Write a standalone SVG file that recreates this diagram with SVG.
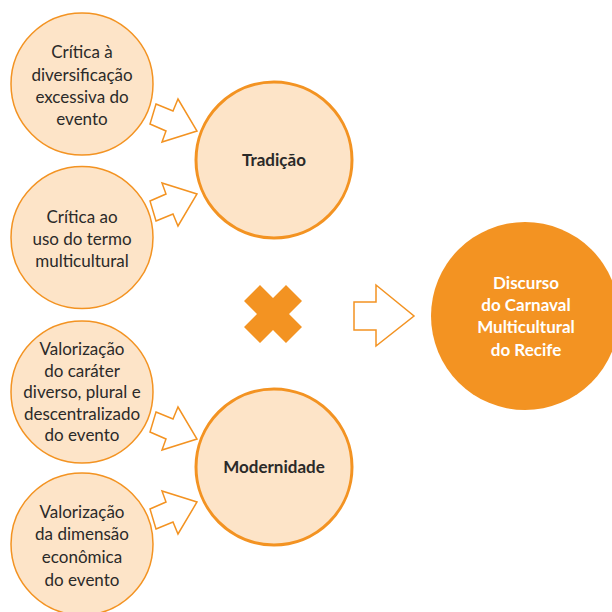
<svg xmlns="http://www.w3.org/2000/svg" width="612" height="612" viewBox="0 0 612 612">
<style>
.sm{fill:#FDE4C8;stroke:#F39322;stroke-width:1.5}
.bg{fill:#FDE4C8;stroke:#F39322;stroke-width:3}
.ar{fill:#fff;stroke:#F39322;stroke-width:1.5;stroke-linejoin:miter}
.t{font-family:Lato,"Open Sans",sans-serif;font-size:17px;fill:#2B2A29;text-anchor:middle}
.b{font-family:Lato,"Open Sans",sans-serif;font-size:17px;font-weight:bold;fill:#2B2A29;text-anchor:middle}
.w{font-family:Lato,"Open Sans",sans-serif;font-size:17px;font-weight:bold;fill:#fff;text-anchor:middle}
</style>
<rect width="612" height="612" fill="#fff"/>
<g id="connectors">
<polygon class="ar" points="156,104 173,111 178,99 197,131 162,142 166,131 150,124"/>
<polygon class="ar" points="156,221 173,214 178,226 197,194 162,183 166,194 150,201"/>
<polygon class="ar" points="156,412 173,419 178,407 197,439 162,450 166,439 150,432"/>
<polygon class="ar" points="156,529 173,522 178,534 197,502 162,491 166,502 150,509"/>
<polygon class="ar" stroke-width="2" points="354,302 376,302 376,285 414,316 376,346 376,330 354,330"/>
</g>
<g id="x-symbol">
<polygon fill="#F39322" points="244,301 260,285 273,298 286,285 302,301 289,314 302,327 286,343 273,330 260,343 244,327 257,314"/>
</g>
<g id="n1">
<circle class="sm" cx="82" cy="84" r="71"/>
<text class="t"><tspan x="82" y="58">Crítica à</tspan><tspan x="82" y="80.5">diversificação</tspan><tspan x="82" y="103">excessiva do</tspan><tspan x="82" y="125">evento</tspan></text>
</g>
<g id="n2">
<circle class="sm" cx="82" cy="237.5" r="71"/>
<text class="t"><tspan x="82" y="223">Crítica ao</tspan><tspan x="82" y="245">uso do termo</tspan><tspan x="82" y="267">multicultural</tspan></text>
</g>
<g id="n3">
<circle class="sm" cx="82" cy="392" r="71"/>
<text class="t"><tspan x="82" y="355">Valorização</tspan><tspan x="82" y="376.5">do caráter</tspan><tspan x="82" y="398">diverso, plural e</tspan><tspan x="82" y="420">descentralizado</tspan><tspan x="82" y="441">do evento</tspan></text>
</g>
<g id="n4">
<circle class="sm" cx="82" cy="544" r="71"/>
<text class="t"><tspan x="82" y="518">Valorização</tspan><tspan x="82" y="540">da dimensão</tspan><tspan x="82" y="563">econômica</tspan><tspan x="82" y="586">do evento</tspan></text>
</g>
<g id="tradicao">
<circle class="bg" cx="274" cy="160" r="78"/>
<text class="b" x="274" y="166">Tradição</text>
</g>
<g id="modernidade">
<circle class="bg" cx="274" cy="467" r="78"/>
<text class="b" x="274" y="473">Modernidade</text>
</g>
<g id="discurso">
<circle fill="#F39322" cx="525" cy="316" r="94"/>
<text class="w"><tspan x="526" y="289">Discurso</tspan><tspan x="526" y="311">do Carnaval</tspan><tspan x="526" y="333">Multicultural</tspan><tspan x="526" y="356">do Recife</tspan></text>
</g>
</svg>
